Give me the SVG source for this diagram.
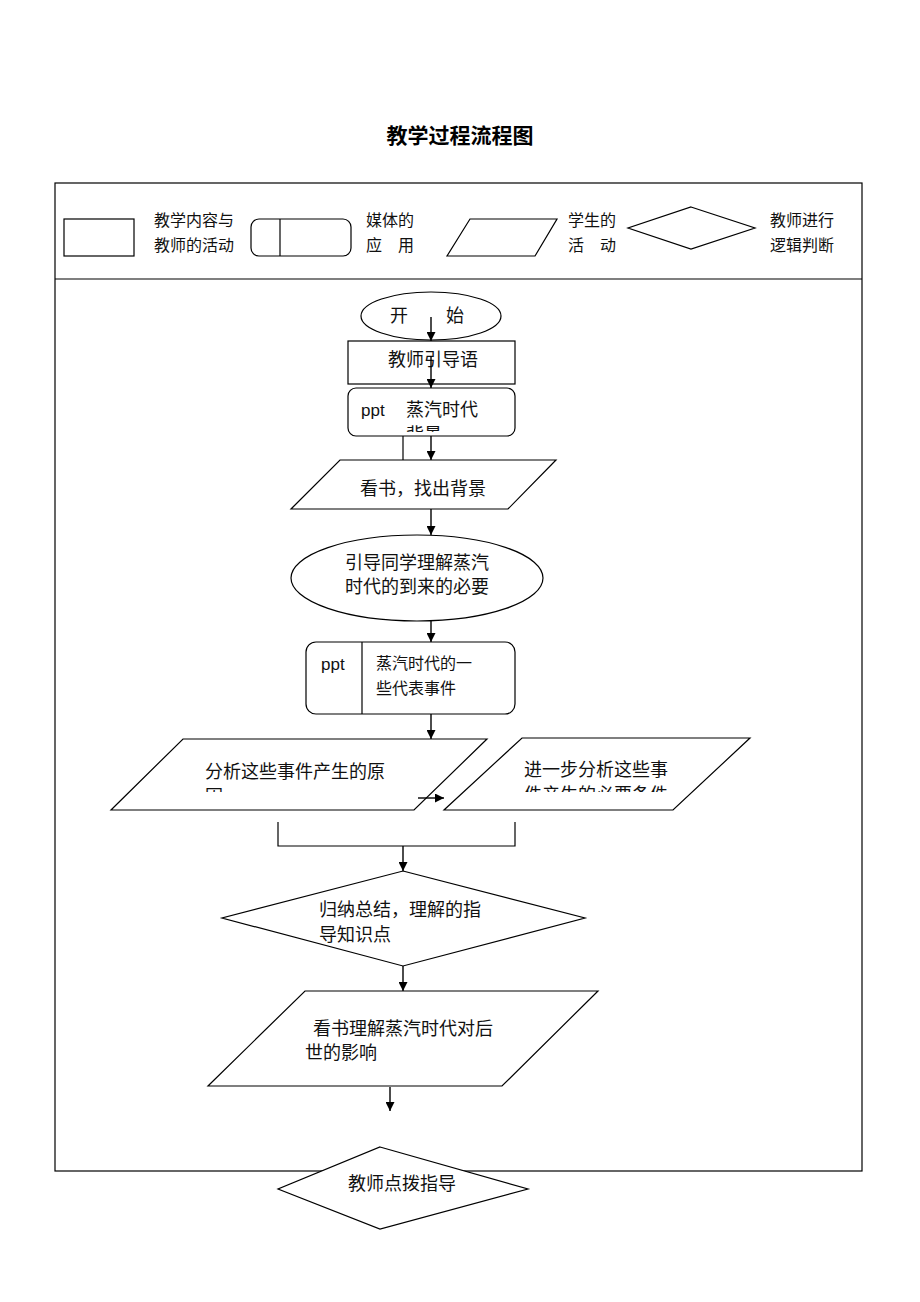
<svg xmlns="http://www.w3.org/2000/svg" width="920" height="1302" viewBox="0 0 920 1302">
<style>
.s{fill:#fff;stroke:#000;stroke-width:1.2}
.l{fill:none;stroke:#000;stroke-width:1.2}
.a{fill:none;stroke:#000;stroke-width:1.4;marker-end:url(#ah)}
text{font-family:"Noto Sans CJK SC","Liberation Sans",sans-serif;font-size:18px;fill:#111}
.lg{font-size:16px}
.sm{font-size:16px}
.t{font-size:21px;font-weight:bold;fill:#000}
.p{font-family:"Liberation Sans","Noto Sans CJK SC",sans-serif;font-size:17px}
</style>
<defs>
<marker id="ah" viewBox="0 0 10 10" refX="10" refY="5" markerWidth="9" markerHeight="9" markerUnits="userSpaceOnUse" orient="auto">
<path d="M0,0 L10,5 L0,10 z" fill="#000"/>
</marker>
<clipPath id="c1"><rect x="348" y="388" width="167" height="44"/></clipPath>
<clipPath id="c2"><rect x="111" y="739" width="376" height="53"/></clipPath>
<clipPath id="c3"><rect x="444" y="738" width="306" height="54"/></clipPath>
</defs>
<rect width="920" height="1302" fill="#fff"/>
<text class="t" x="460" y="143" text-anchor="middle">教学过程流程图</text>
<g id="frame">
<rect x="55" y="183" width="807" height="988" class="l"/>
<line x1="55" y1="279" x2="862" y2="279" class="l"/>
</g>
<g id="legend">
<rect x="64" y="219" width="70" height="37" class="s"/>
<text class="lg" x="154" y="226">教学内容与</text>
<text class="lg" x="154" y="251">教师的活动</text>
<rect x="251" y="219" width="100" height="37" rx="8" class="s"/>
<line x1="280" y1="219" x2="280" y2="256" class="l"/>
<text class="lg" x="366" y="226">媒体的</text>
<text class="lg" x="366" y="251">应　用</text>
<polygon points="470,219 557,219 535,256 447,256" class="s"/>
<text class="lg" x="568" y="226">学生的</text>
<text class="lg" x="568" y="251">活　动</text>
<polygon points="691,207 755,228 691,249 628,228" class="s"/>
<text class="lg" x="770" y="226">教师进行</text>
<text class="lg" x="770" y="251">逻辑判断</text>
</g>
<g id="start">
<ellipse cx="431" cy="316" rx="70" ry="24" class="s"/>
<text x="390" y="322">开</text>
<text x="446" y="322">始</text>
</g>
<g id="n1">
<rect x="348" y="341" width="167" height="43" class="s"/>
<text x="388" y="366">教师引导语</text>
</g>
<g id="n2">
<rect x="348" y="388" width="167" height="48" rx="8" class="s"/>
<text class="p" x="361" y="416">ppt</text>
<g clip-path="url(#c1)">
<text x="406" y="416">蒸汽时代</text>
<text x="406" y="441">背景</text>
</g>
</g>
<g id="n3">
<polygon points="340,460 556,460 508,509 291,509" class="s"/>
<text x="360" y="495">看书，找出背景</text>
</g>
<g id="n4">
<ellipse cx="417" cy="578" rx="126" ry="43" class="s"/>
<text x="345" y="569">引导同学理解蒸汽</text>
<text x="345" y="593">时代的到来的必要</text>
</g>
<g id="n5">
<rect x="306" y="642" width="209" height="72" rx="10" class="s"/>
<line x1="362" y1="642" x2="362" y2="714" class="l"/>
<text class="p" x="321" y="670">ppt</text>
<text class="sm" x="376" y="669">蒸汽时代的一</text>
<text class="sm" x="376" y="694">些代表事件</text>
</g>
<g id="n6">
<polygon points="183,739 487,739 414,810 111,810" class="s"/>
<g clip-path="url(#c2)">
<text x="205" y="778">分析这些事件产生的原</text>
<text x="205" y="803">因</text>
</g>
</g>
<g id="n7">
<polygon points="522,738 750,738 673,810 444,810" class="s"/>
<g clip-path="url(#c3)">
<text x="524" y="776">进一步分析这些事</text>
<text x="524" y="801">件产生的必要条件</text>
</g>
</g>
<g id="n8">
<polygon points="403,871 585,918 403,966 222,918" class="s"/>
<text x="319" y="916">归纳总结，理解的指</text>
<text x="319" y="941">导知识点</text>
</g>
<g id="n9">
<polygon points="305,991 598,991 502,1086 208,1086" class="s"/>
<text x="313" y="1035">看书理解蒸汽时代对后</text>
<text x="305" y="1059">世的影响</text>
</g>
<g id="n10">
<polygon points="380,1147 528,1189 380,1229 278,1189" class="s"/>
<text x="348" y="1190">教师点拨指导</text>
</g>
<g id="connectors">
<line x1="431" y1="317" x2="431" y2="341" class="a"/>
<line x1="431" y1="356" x2="431" y2="388" class="a"/>
<line x1="403" y1="436" x2="403" y2="460" class="l"/>
<line x1="431" y1="436" x2="431" y2="460" class="a"/>
<line x1="431" y1="509" x2="431" y2="535" class="a"/>
<line x1="431" y1="621" x2="431" y2="642" class="a"/>
<line x1="431" y1="714" x2="431" y2="739" class="a"/>
<line x1="418" y1="798" x2="444" y2="798" class="a"/>
<polyline points="278,822 278,846 515,846 515,822" class="l"/>
<line x1="403" y1="846" x2="403" y2="871" class="a"/>
<line x1="403" y1="966" x2="403" y2="991" class="a"/>
<line x1="390" y1="1087" x2="390" y2="1111" class="a"/>
</g>
</svg>
